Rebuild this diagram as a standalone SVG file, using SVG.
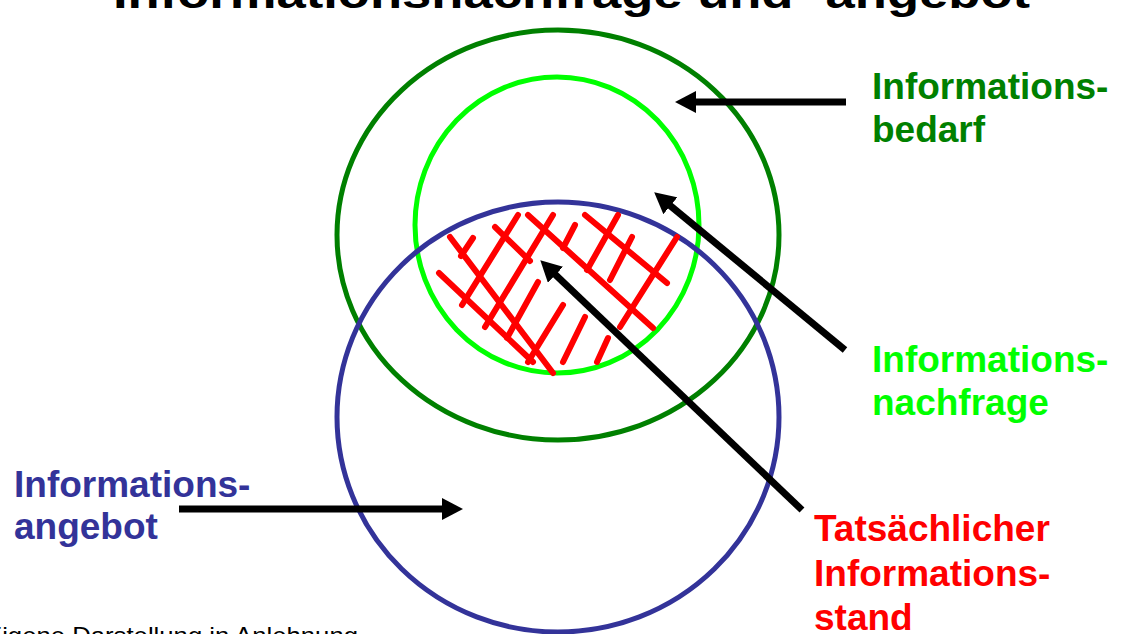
<svg xmlns="http://www.w3.org/2000/svg" width="1123" height="634" viewBox="0 0 1123 634">
<style>
.lbl{font-family:"Liberation Sans",Arial,sans-serif;font-weight:bold;font-size:37px}
.hatch line{stroke:#FF0000;stroke-width:6;stroke-linecap:round}
.arr{stroke:#000;stroke-width:7;fill:none;marker-end:url(#ah)}
</style>
<defs>
<marker id="ah" markerUnits="userSpaceOnUse" markerWidth="21" markerHeight="22" refX="4" refY="11" orient="auto">
<path d="M0,0 L21,11 L0,22 z" fill="#000"/>
</marker>
</defs>
<rect width="1123" height="634" fill="#fff"/>
<text x="113" y="8" font-family="'Liberation Sans',Arial,sans-serif" font-weight="bold" font-size="42" textLength="917" lengthAdjust="spacingAndGlyphs">Informationsnachfrage und -angebot</text>

<g id="bedarf">
<ellipse cx="558" cy="235" rx="221" ry="205" fill="none" stroke="#008000" stroke-width="5"/>
<text class="lbl" fill="#008000"><tspan x="872" y="99">Informations-</tspan><tspan x="872" y="142">bedarf</tspan></text>
</g>
<g id="nachfrage">
<ellipse cx="557" cy="225" rx="142" ry="148" fill="none" stroke="#00FF00" stroke-width="5"/>
<text class="lbl" fill="#00FF00"><tspan x="872" y="372">Informations-</tspan><tspan x="872" y="415">nachfrage</tspan></text>
</g>
<g id="angebot">
<ellipse cx="558" cy="417" rx="221" ry="215" fill="none" stroke="#333399" stroke-width="5"/>
<text class="lbl" fill="#333399"><tspan x="14" y="497">Informations-</tspan><tspan x="14" y="539">angebot</tspan></text>
</g>
<g id="stand">
<g class="hatch">
<line x1="450" y1="237" x2="553" y2="373"/>
<line x1="439" y1="273" x2="533" y2="362"/>
<line x1="495" y1="227" x2="530" y2="261"/>
<line x1="528" y1="215" x2="653" y2="328"/>
<line x1="585" y1="215" x2="667" y2="283"/>
<line x1="462" y1="305" x2="518" y2="215"/>
<line x1="485" y1="327" x2="553" y2="215"/>
<line x1="507" y1="338" x2="538" y2="282"/>
<line x1="528" y1="362" x2="563" y2="305"/>
<line x1="563" y1="362" x2="585" y2="317"/>
<line x1="597" y1="362" x2="608" y2="338"/>
<line x1="563" y1="248" x2="575" y2="225"/>
<line x1="587" y1="270" x2="618" y2="215"/>
<line x1="610" y1="280" x2="632" y2="237"/>
<line x1="620" y1="327" x2="677" y2="237"/>
<line x1="461" y1="256" x2="473" y2="238"/>
</g>
<text class="lbl" fill="#FF0000"><tspan x="814" y="541">Tatsächlicher</tspan><tspan x="814" y="586">Informations-</tspan><tspan x="814" y="630">stand</tspan></text>
</g>

<g id="connectors">
<line class="arr" x1="846" y1="102" x2="692" y2="102"/>
<line class="arr" x1="845" y1="350" x2="667.3" y2="203.2"/>
<line class="arr" x1="802" y1="510" x2="552.6" y2="272"/>
<line class="arr" x1="179" y1="509" x2="446" y2="509"/>
</g>

<text x="-15" y="644" font-family="'Liberation Sans',Arial,sans-serif" font-size="24" fill="#000" textLength="373" lengthAdjust="spacingAndGlyphs">Eigene Darstellung in Anlehnung</text>
</svg>
